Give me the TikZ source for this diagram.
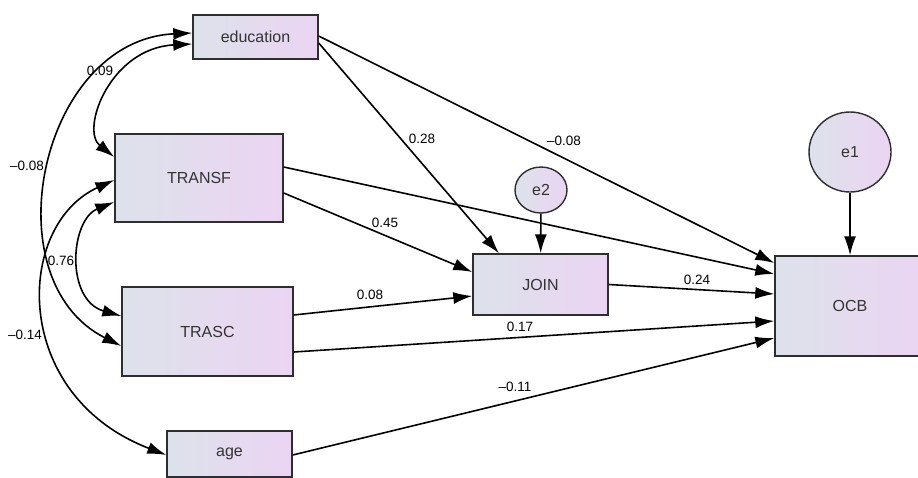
\documentclass[tikz,border=0pt]{standalone}
\usepackage{fontspec}
\setmainfont{Liberation Sans}
\usetikzlibrary{arrows.meta,shapes.geometric}
\definecolor{boxleft}{HTML}{DDE2EA}
\definecolor{boxright}{HTML}{EBD4F3}
\definecolor{edgegray}{HTML}{2E2E2E}
\definecolor{textgray}{HTML}{333333}

\begin{document}
\begin{tikzpicture}[x=1pt, y=-1pt,
    var/.style={draw=edgegray, line width=1.4pt, inner sep=0pt,
      left color=boxleft, right color=boxright, text=textgray,
      font=\fontsize{16}{19}\selectfont},
    coef/.style={inner sep=0pt, font=\fontsize{13.5}{16}\selectfont},
    reg/.style={-{Latex[length=19pt,width=12pt]}, line width=1.6pt},
    cov/.style={{Latex[length=19pt,width=12pt]}-{Latex[length=19pt,width=12pt]}, line width=1.6pt}]
    \useasboundingbox (0,0) rectangle (918,477);
    \clip (0,0) rectangle (918,477);

    % observed variables
    \node[var, minimum width=125pt, minimum height=44pt] (edu) at (255.5,37) {education};
    \node[var, minimum width=168pt, minimum height=88pt] (TRANSF) at (199,178) {TRANSF};
    \node[var, minimum width=171pt, minimum height=89pt] (TRASC) at (207.5,331.5) {TRASC};
    \node[var, minimum width=125pt, minimum height=46pt] (age) at (229.5,454) {age};
    \node[var, minimum width=135pt, minimum height=61pt] (JOIN) at (540.5,284.5) {JOIN};
    \node[var, minimum width=150pt, minimum height=100pt] (OCB) at (850,306) {OCB};

    % error terms
    \node[var, ellipse, minimum width=82pt, minimum height=80pt] (e1) at (850,152) {e1};
    \node[var, ellipse, minimum width=52pt, minimum height=46pt] (e2) at (541,190) {e2};

    % paths
    \draw[reg] ([yshift=-6pt]edu.east) -- ([xshift=-41.5pt]JOIN.north);
    \draw[reg] ([yshift=1pt]edu.east) -- ([yshift=43pt]OCB.west);
    \draw[reg] ([yshift=11pt]TRANSF.east) -- ([yshift=32pt]OCB.west);
    \draw[reg] ([yshift=-15pt]TRANSF.east) -- ([yshift=12.5pt]JOIN.west);
    \draw[reg] ([yshift=16.5pt]TRASC.east) -- ([yshift=-11.5pt]JOIN.west);
    \draw[reg] ([yshift=-20.5pt]TRASC.east) -- ([yshift=-15pt]OCB.west);
    \draw[reg] ([yshift=-1pt]age.east) -- ([yshift=-32pt]OCB.west);
    \draw[reg] (JOIN.east) -- ([yshift=12pt]OCB.west);
    \draw[reg] (e2) -- (JOIN);
    \draw[reg] (e1) -- (OCB);

    % covariances
    \draw[cov] ([yshift=-7pt]edu.west) .. controls (110,48) and (80,130) .. ([yshift=21pt]TRANSF.west);
    \draw[cov] ([yshift=4pt]edu.west) .. controls (40,40) and (-10,280) .. ([yshift=-14.5pt]TRASC.west);
    \draw[cov] ([yshift=-24pt]TRANSF.west) .. controls (70,220) and (65,300) .. ([yshift=15.5pt]TRASC.west);
    \draw[cov] ([yshift=-2pt]TRANSF.west) .. controls (15,225) and (10,395) .. ([yshift=-1pt]age.west);

    % estimates
    \node[coef] (c-edu-transf) at (100,71) {0.09};
    \node[coef] (c-edu-trasc) at (27,166) {\textendash0.08};
    \node[coef] (c-transf-trasc) at (61,261) {0.76};
    \node[coef] (c-transf-age) at (25,335) {\textendash0.14};
    \node[coef] (c-edu-join) at (422,139) {0.28};
    \node[coef] (c-edu-ocb) at (564,141) {\textendash0.08};
    \node[coef] (c-transf-join) at (385,223) {0.45};
    \node[coef] (c-trasc-join) at (370,295) {0.08};
    \node[coef] (c-join-ocb) at (697,280) {0.24};
    \node[coef] (c-trasc-ocb) at (520,327) {0.17};
    \node[coef] (c-age-ocb) at (515,387) {\textendash0.11};
\end{tikzpicture}
\end{document}
